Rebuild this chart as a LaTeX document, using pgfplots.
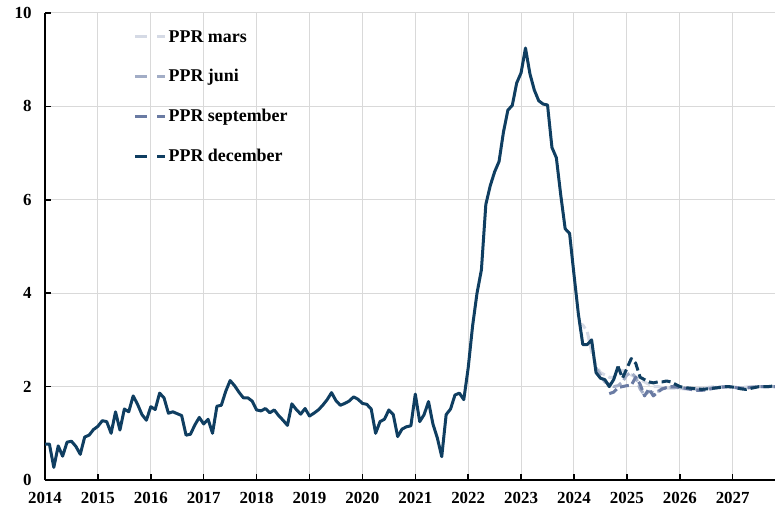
\documentclass[border=0pt]{standalone}
\usepackage{fontspec}
\setmainfont{Liberation Serif}
\usepackage{pgfplots}
\pgfplotsset{compat=1.18}
\definecolor{navy}{HTML}{0F3E61}
\definecolor{pprsep}{HTML}{6A7BA3}
\definecolor{pprjun}{HTML}{A2ADC6}
\definecolor{pprmar}{HTML}{D5DAE5}

\begin{document}
\begin{tikzpicture}
\begin{axis}[
    scale only axis,
    width=730bp, height=467bp,
    xmin=0, xmax=165.6, ymin=0, ymax=10,
    axis lines=left,
    axis line style={-, line width=2bp, black},
    xtick={0,12,24,36,48,60,72,84,96,108,120,132,144,156},
    xticklabels={2014,2015,2016,2017,2018,2019,2020,2021,2022,2023,2024,2025,2026,2027},
    ytick={0,2,4,6,8,10},
    tick align=inside,
    major tick length=6bp,
    tick style={black, line width=1.5bp},
    grid=major,
    grid style={gray!30, line width=1bp},
    ticklabel style={font=\fontsize{17}{20}\selectfont\bfseries},
    /pgf/number format/assume math mode=true,
    yticklabel style={xshift=-10bp},
    xticklabel style={yshift=-9bp},
    legend style={at={(0.117,0.972)}, anchor=north west, draw=none, fill=none,
        font=\fontsize{18}{21}\selectfont\bfseries, row sep=22bp,
        nodes={inner sep=2bp}},
    legend cell align=left,
    legend image code/.code={\draw[#1, dash pattern=on 12bp off 10bp] (0bp,0bp) -- (30bp,0bp);},
    every axis plot/.append style={line width=3bp, line join=round},
]
% PPR mars
\addplot[pprmar, dash pattern=on 9bp off 4bp] coordinates {
(121,3.35)(122,3.32)(123,3.18)(124,2.75)(125,2.45)(126,2.3)(127,2.25)(128,2.2)(129,2.2)(130,2.3)
(131,2.35)(132,2.3)(133,2.25)(134,2.2)(135,2.15)(136,2.1)(137,2.05)(138,2.0)(139,2.0)(140,1.98)
(141,1.97)(142,1.97)(143,1.97)(144,1.96)(145,1.95)(146,1.95)(147,1.95)(148,1.96)(149,1.97)(150,1.98)
(151,1.99)(152,2.0)(153,2.0)(154,2.0)(155,2.0)(156,1.99)(157,1.98)(158,1.98)(159,1.99)(160,2.0)
(161,2.0)(162,2.0)(163,2.0)(164,2.0)(165,2.0)(166,2.0)};
% PPR juni
\addplot[pprjun, dash pattern=on 9bp off 4bp] coordinates {
(125,2.4)(126,2.25)(127,2.1)(128,2.05)(129,2.0)(130,2.02)(131,2.1)(132,2.25)(133,2.3)(134,2.2)
(135,1.95)(136,1.82)(137,1.9)(138,1.87)(139,1.9)(140,1.95)(141,1.97)(142,1.98)(143,1.98)(144,1.97)
(145,1.96)(146,1.95)(147,1.94)(148,1.94)(149,1.95)(150,1.96)(151,1.97)(152,1.98)(153,1.99)(154,2.0)
(155,2.0)(156,1.99)(157,1.98)(158,1.97)(159,1.97)(160,1.98)(161,1.99)(162,2.0)(163,2.0)(164,2.0)
(165,2.0)(166,2.0)};
% PPR september
\addplot[pprsep, dash pattern=on 9bp off 4bp] coordinates {
(128,1.85)(129,1.88)(130,1.98)(131,2.0)(132,2.02)(133,2.03)(134,2.2)(135,2.05)(136,1.8)(137,1.95)
(138,1.8)(139,1.88)(140,1.95)(141,1.98)(142,2.0)(143,2.0)(144,1.98)(145,1.97)(146,1.95)(147,1.93)
(148,1.92)(149,1.92)(150,1.93)(151,1.95)(152,1.97)(153,1.98)(154,1.99)(155,2.0)(156,1.99)(157,1.97)
(158,1.96)(159,1.97)(160,1.98)(161,1.99)(162,2.0)(163,2.0)(164,2.0)(165,2.0)(166,2.0)};
% PPR december
\addplot[navy, dash pattern=on 9bp off 4bp] coordinates {
(130,2.43)(131,2.18)(132,2.39)(133,2.6)(134,2.5)(135,2.2)(136,2.15)(137,2.1)(138,2.08)(139,2.1)
(140,2.1)(141,2.12)(142,2.1)(143,2.05)(144,2.0)(145,1.98)(146,1.97)(147,1.96)(148,1.95)(149,1.94)
(150,1.95)(151,1.96)(152,1.97)(153,1.98)(154,2.0)(155,2.0)(156,1.99)(157,1.97)(158,1.95)(159,1.94)
(160,1.96)(161,1.98)(162,2.0)(163,2.0)(164,2.0)(165,2.01)(166,2.0)};
% utfall
\addplot[navy, forget plot] coordinates {
(0,0.77)(1,0.77)(2,0.27)(3,0.73)(4,0.51)(5,0.81)(6,0.83)(7,0.72)(8,0.55)(9,0.92)
(10,0.96)(11,1.08)(12,1.15)(13,1.27)(14,1.25)(15,1.0)(16,1.46)(17,1.07)(18,1.52)(19,1.46)
(20,1.8)(21,1.62)(22,1.4)(23,1.28)(24,1.57)(25,1.51)(26,1.86)(27,1.76)(28,1.43)(29,1.46)
(30,1.42)(31,1.38)(32,0.96)(33,0.98)(34,1.18)(35,1.34)(36,1.2)(37,1.3)(38,1.0)(39,1.58)
(40,1.6)(41,1.9)(42,2.13)(43,2.02)(44,1.88)(45,1.76)(46,1.76)(47,1.69)(48,1.5)(49,1.48)
(50,1.53)(51,1.44)(52,1.5)(53,1.38)(54,1.28)(55,1.17)(56,1.63)(57,1.51)(58,1.41)(59,1.53)
(60,1.37)(61,1.43)(62,1.5)(63,1.6)(64,1.72)(65,1.87)(66,1.7)(67,1.6)(68,1.64)(69,1.69)
(70,1.78)(71,1.73)(72,1.64)(73,1.62)(74,1.52)(75,1.0)(76,1.25)(77,1.3)(78,1.5)(79,1.4)
(80,0.93)(81,1.09)(82,1.14)(83,1.16)(84,1.84)(85,1.25)(86,1.4)(87,1.68)(88,1.2)(89,0.9)
(90,0.5)(91,1.4)(92,1.52)(93,1.82)(94,1.86)(95,1.72)(96,2.4)(97,3.3)(98,4.0)(99,4.5)
(100,5.9)(101,6.3)(102,6.6)(103,6.82)(104,7.45)(105,7.92)(106,8.02)(107,8.5)(108,8.72)(109,9.25)
(110,8.7)(111,8.35)(112,8.12)(113,8.05)(114,8.03)(115,7.12)(116,6.9)(117,6.1)(118,5.38)(119,5.28)
(120,4.4)(121,3.55)(122,2.9)(123,2.9)(124,3.0)(125,2.3)(126,2.18)(127,2.15)(128,2.0)(129,2.15)
(130,2.43)};
\legend{PPR mars, PPR juni, PPR september, PPR december}
\end{axis}
\pgfresetboundingbox
\path ([shift={(-45bp,-32bp)}]current axis.south west) rectangle ([shift={(0bp,13bp)}]current axis.north east);
\end{tikzpicture}
\end{document}
